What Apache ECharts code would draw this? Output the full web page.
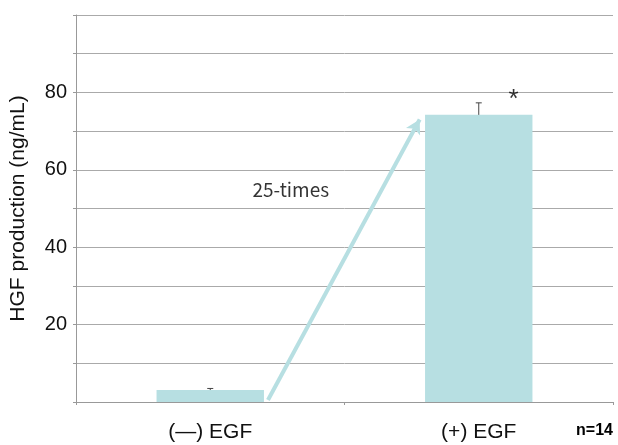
<!DOCTYPE html>
<html><head><meta charset="utf-8">
<script src="https://cdn.jsdelivr.net/npm/echarts@6/dist/echarts.min.js"></script>
<style>html,body{margin:0;padding:0;background:#fff}#c{width:618px;height:445px}</style>
</head><body><div id="c"></div>
<script>
const categories = ['(—) EGF', '(+) EGF'];
const values = [3.1, 74.2];
const errors = [0.4, 3.1];
const yLabelTicks = [20, 40, 60, 80];
const arrowFrom = [0.715, 0.5];
const arrowTo = [1.28, 73];
const annotations = [
  { pos: [0.80, 54.8], text: '25-times', size: 19, font: 'Noto Sans CJK JP, sans-serif' },
  { pos: [1.63, 78.0], text: '*', size: 26, font: 'Liberation Sans, Arial, sans-serif' }
];

const barColor = '#b7dfe2';
const chart = echarts.init(document.getElementById('c'));
chart.setOption({
  animation: false,
  grid: { left: 76, right: 5, top: 15, bottom: 43 },
  xAxis: [{
    type: 'category', data: categories,
    axisLine: { lineStyle: { color: '#999' } },
    axisTick: { show: true, length: 3, lineStyle: { color: '#999' } },
    axisLabel: { color: '#111', fontSize: 21, margin: 20, fontFamily: 'Liberation Sans, Arial, sans-serif' }
  }, {
    type: 'value', min: 0, max: 2, show: false
  }],
  yAxis: {
    type: 'value', min: 0, max: 100, interval: 10,
    name: 'HGF production (ng/mL)', nameLocation: 'middle', nameGap: 47,
    nameTextStyle: { fontSize: 21, color: '#111', fontFamily: 'Liberation Sans, Arial, sans-serif' },
    axisLine: { show: true, lineStyle: { color: '#999' } },
    axisTick: { show: true, length: 3, lineStyle: { color: '#999' } },
    splitLine: { lineStyle: { color: '#aaa' } },
    axisLabel: {
      fontSize: 20, color: '#111', margin: 9, fontFamily: 'Liberation Sans, Arial, sans-serif',
      formatter: v => yLabelTicks.includes(v) ? String(v) : ''
    }
  },
  series: [{
    type: 'bar', data: values, barWidth: '40%',
    itemStyle: { color: barColor }
  }, {
    type: 'custom', data: values.map((v, i) => [i, v, errors[i]]),
    renderItem: (params, api) => {
      const x = api.value(0), v = api.value(1), e = api.value(2);
      const p0 = api.coord([x, v]);
      const p1 = api.coord([x, v + e]);
      const half = 3;
      return { type: 'group', children: [
        { type: 'line', shape: { x1: p0[0], y1: p0[1], x2: p1[0], y2: p1[1] }, style: { stroke: '#444', lineWidth: 1 } },
        { type: 'line', shape: { x1: p1[0] - half, y1: p1[1], x2: p1[0] + half, y2: p1[1] }, style: { stroke: '#444', lineWidth: 1 } }
      ]};
    },
    z: 5
  }, {
    type: 'scatter', xAxisIndex: 1, symbolSize: 0,
    data: annotations.map(a => ({
      value: a.pos, name: a.text,
      label: { fontSize: a.size, fontFamily: a.font }
    })),
    label: {
      show: true, position: 'inside', formatter: p => p.name, color: '#000'
    },
    markLine: {
      silent: true, symbol: ['none', 'arrow'], symbolSize: [12, 14],
      lineStyle: { color: barColor, width: 4, type: 'solid' },
      label: { show: false },
      data: [[{ coord: arrowFrom }, { coord: arrowTo }]]
    }
  }],
  graphic: [{
    type: 'text', right: 5, top: 423,
    style: { text: 'n=14', fontSize: 16, fontWeight: 'bold', fill: '#000', fontFamily: 'Liberation Sans, Arial, sans-serif' }
  }]
});
</script></body></html>
